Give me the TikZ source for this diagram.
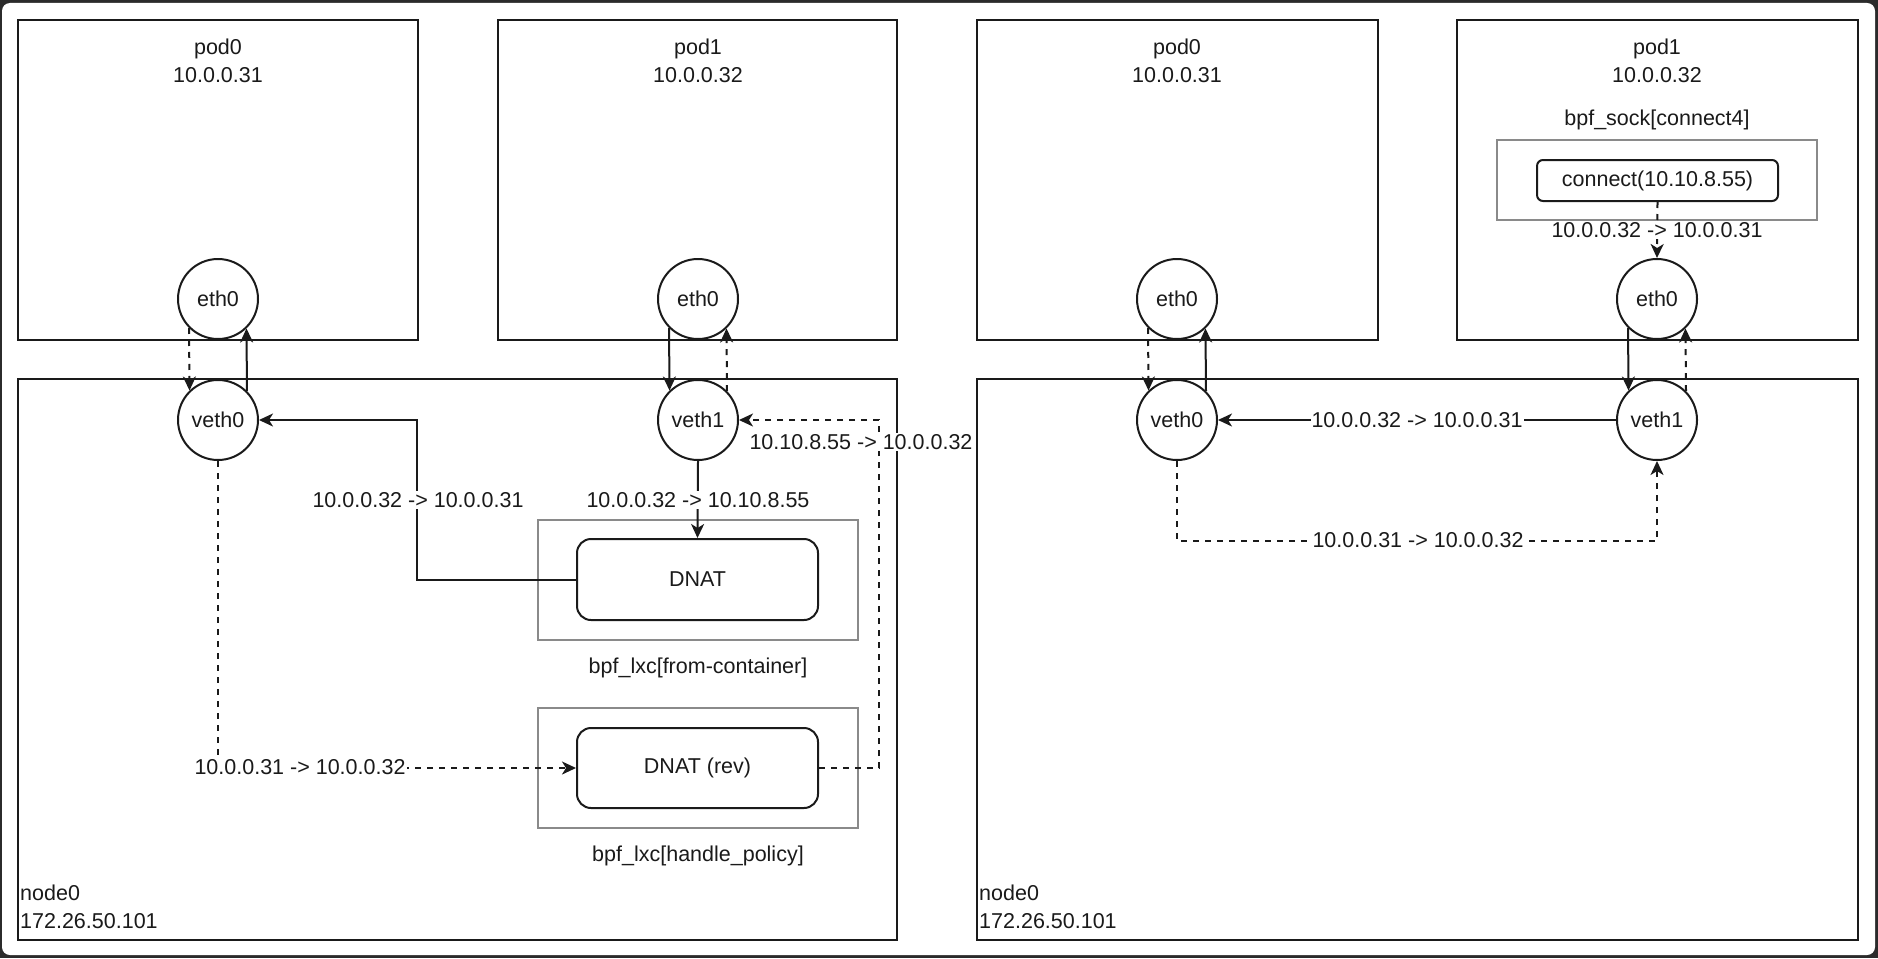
\documentclass[tikz,border=0pt]{standalone}
\usepackage{fontspec}
\setmainfont{Liberation Sans}
\usetikzlibrary{arrows.meta}
\definecolor{frame}{HTML}{2B2B2B}
\definecolor{ink}{HTML}{1A1A1A}
\definecolor{lxcgray}{HTML}{8A8A8A}

\begin{document}
\begin{tikzpicture}[x=1pt,y=-1pt,
  font=\fontsize{21.5}{28}\selectfont,
  box/.style={draw=ink, line width=2.3pt, inner sep=0pt},
  prog/.style={draw=lxcgray, line width=1.7pt, inner sep=0pt},
  iface/.style={draw=ink, circle, line width=2pt, minimum size=80pt, inner sep=0pt, fill=white, text=ink},
  fn/.style={draw=ink, line width=2pt, rounded corners=14pt, fill=white, inner sep=0pt, text=ink},
  flow/.style={line width=2pt, draw=ink, -{Stealth[length=14pt,width=13pt,inset=4pt]}},
  flowdash/.style={flow, dash pattern=on 6pt off 6pt},
  tag/.style={fill=white, inner sep=1pt, text=ink},
  lbl/.style={text=ink, align=center, inner sep=0pt},
  hostlbl/.style={text=ink, align=left, inner sep=0pt, anchor=west}
]
\useasboundingbox (0,0) rectangle (1878,958);
% window frame
\fill[frame] (0,0) rectangle (1878,958);
\fill[white, rounded corners=8pt] (2,3) rectangle (1875,955);

% ---------- left half: DNAT in bpf_lxc ----------
\node[box, minimum width=400pt, minimum height=320pt] (podAL) at (218,180) {};
\node[box, minimum width=399pt, minimum height=320pt] (podBL) at (697.5,180) {};
\node[box, minimum width=879pt, minimum height=561pt] (hostL) at (457.5,659.5) {};
\node[lbl] (podALt) at (218,61) {pod0\\10.0.0.31};
\node[lbl] (podBLt) at (698,61) {pod1\\10.0.0.32};
\node[hostlbl] (hostLt) at (20,907) {node0\\172.26.50.101};

\node[iface] (eth0L) at (218,299) {eth0};
\node[iface] (eth1L) at (698,299) {eth0};
\node[iface] (veth0L) at (218,420) {veth0};
\node[iface] (veth1L) at (698,420) {veth1};

\node[prog, minimum width=320pt, minimum height=120pt] (fromctL) at (698,580) {};
\node[fn, minimum width=241pt, minimum height=81pt] (dnatL) at (697.5,579.5) {DNAT};
\node[lbl] (fromctLt) at (698,668) {bpf\_lxc[from-container]};
\node[prog, minimum width=320pt, minimum height=120pt] (policyL) at (698,768) {};
\node[fn, minimum width=241pt, minimum height=80pt] (revL) at (697.5,768) {DNAT (rev)};
\node[lbl] (policyLt) at (698,856) {bpf\_lxc[handle\_policy]};

% pod <-> veth pairs
\draw[flowdash] (eth0L.225.6) -- (veth0L.134.4);
\draw[flow] (veth0L.45.6) -- (eth0L.314.4);
\draw[flow] (eth1L.225.6) -- (veth1L.134.4);
\draw[flowdash] (veth1L.45.6) -- (eth1L.314.4);

% request path through DNAT
\draw[flow] (veth1L.south) -- (dnatL.north);
\node[tag] at (698,500) {10.0.0.32 -> 10.10.8.55};
\draw[flow] (dnatL.west) -- ++(-159.5,0) |- (veth0L.east);
\node[tag] at (418,500) {10.0.0.32 -> 10.0.0.31};

% reply path through reverse DNAT
\draw[flowdash] (veth0L.south) |- (revL.west);
\node[tag] at (300,767) {10.0.0.31 -> 10.0.0.32};
\draw[flowdash] (revL.east) -- ++(60,0) |- (veth1L.east);
\node[tag] at (861,442) {10.10.8.55 -> 10.0.0.32};

% ---------- right half: socket-level translation ----------
\node[box, minimum width=401pt, minimum height=320pt] (podAR) at (1177.5,180) {};
\node[box, minimum width=401pt, minimum height=320pt] (podBR) at (1657.5,180) {};
\node[box, minimum width=881pt, minimum height=561pt] (hostR) at (1417.5,659.5) {};
\node[lbl] (podARt) at (1177,61) {pod0\\10.0.0.31};
\node[lbl] (podBRt) at (1657,61) {pod1\\10.0.0.32};
\node[hostlbl] (hostRt) at (979,907) {node0\\172.26.50.101};

\node[lbl] (sockt) at (1657,120) {bpf\_sock[connect4]};
\node[prog, minimum width=320pt, minimum height=80pt] (sockR) at (1657,180) {};
\node[fn, rounded corners=6pt, minimum width=241pt, minimum height=41pt] (connR) at (1657.5,180.5) {connect(10.10.8.55)};

\node[iface] (eth0R) at (1177,299) {eth0};
\node[iface] (eth1R) at (1657,299) {eth0};
\node[iface] (veth0R) at (1177,420) {veth0};
\node[iface] (veth1R) at (1657,420) {veth1};

\draw[flowdash] (eth0R.225.6) -- (veth0R.134.4);
\draw[flow] (veth0R.45.6) -- (eth0R.314.4);
\draw[flow] (eth1R.225.6) -- (veth1R.134.4);
\draw[flowdash] (veth1R.45.6) -- (eth1R.314.4);

\draw[flowdash] (connR.south) -- (eth1R.north);
\node[tag] at (1657,230) {10.0.0.32 -> 10.0.0.31};

\draw[flow] (veth1R.west) -- (veth0R.east);
\node[tag] at (1417,420) {10.0.0.32 -> 10.0.0.31};

\draw[flowdash] (veth0R.south) -- ++(0,80) -| (veth1R.south);
\node[tag] at (1418,540) {10.0.0.31 -> 10.0.0.32};
\end{tikzpicture}
\end{document}
